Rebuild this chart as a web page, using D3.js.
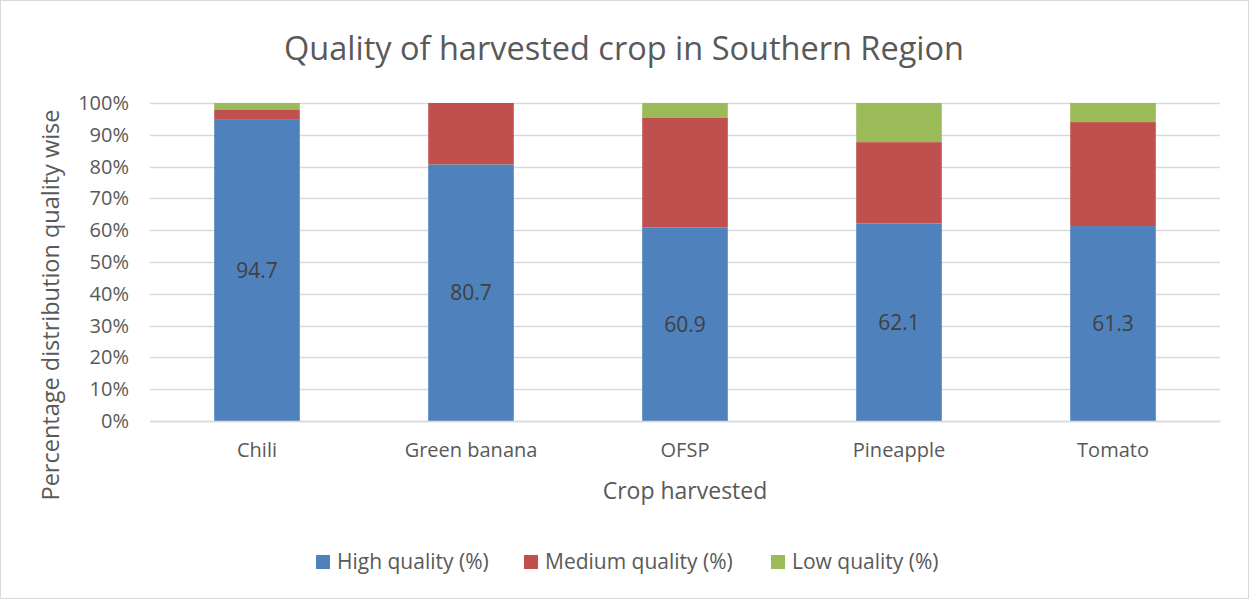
<!DOCTYPE html>
<html>
<head>
<meta charset="utf-8">
<script src="https://cdn.jsdelivr.net/npm/d3@7"></script>
<style>
  html, body { margin: 0; padding: 0; background: #fff; }
  svg { display: block; font-family: "Open Sans", "Noto Sans", sans-serif; }
</style>
</head>
<body>
<svg id="chart" width="1249" height="599"></svg>
<script>
// Crop quality shares (percent) in the Southern Region
const crops = ["Chili", "Green banana", "OFSP", "Pineapple", "Tomato"];
const highQuality = [94.7, 80.7, 60.9, 62.1, 61.3];
const mediumQuality = [3.1, 19.3, 34.4, 25.6, 32.7];
const lowQuality = [2.2, 0.0, 4.7, 12.3, 6.0];
const seriesNames = ["High quality (%)", "Medium quality (%)", "Low quality (%)"];
const seriesColors = ["#4f81bd", "#c0504d", "#9bbb59"];
const yTicks = [0, 0.1, 0.2, 0.3, 0.4, 0.5, 0.6, 0.7, 0.8, 0.9, 1.0];

const W = 1249, H = 599;
const margin = { left: 150, right: 29, top: 103, bottom: 178 };
const textColor = "#595959";
const svg = d3.select("#chart");

// chart frame
svg.append("rect").attr("x", 0.5).attr("y", 0.5).attr("width", W - 1).attr("height", H - 1)
  .attr("fill", "#fff").attr("stroke", "#d9d9d9");

const rows = crops.map((c, i) => ({ crop: c, high: highQuality[i], medium: mediumQuality[i], low: lowQuality[i] }));
const keys = ["high", "medium", "low"];
const stacked = d3.stack().keys(keys)(rows);

const x = d3.scaleBand().domain(crops).range([margin.left, W - margin.right]).paddingInner(0.6).paddingOuter(0.3);
const y = d3.scaleLinear().domain([0, 1]).range([H - margin.bottom, margin.top]);

// gridlines
svg.append("g").selectAll("line").data(yTicks).join("line")
  .attr("x1", margin.left).attr("x2", W - margin.right)
  .attr("y1", d => Math.round(y(d)) + 0.5).attr("y2", d => Math.round(y(d)) + 0.5)
  .attr("stroke", "#d9d9d9").attr("stroke-width", 1.3);

// y axis labels
const yAxis = d3.axisLeft(y).tickValues(yTicks).tickFormat(d3.format(".0%")).tickSize(0).tickPadding(21);
const yg = svg.append("g").attr("transform", `translate(${margin.left},0)`).call(yAxis)
  .attr("font-family", null).attr("font-size", null);
yg.select(".domain").remove();
yg.selectAll("text").attr("font-size", 20).attr("fill", textColor);

// stacked bars
svg.append("g").selectAll("g").data(stacked).join("g")
  .attr("fill", (d, i) => seriesColors[i])
  .selectAll("rect").data(d => d).join("rect")
  .attr("x", d => x(d.data.crop))
  .attr("width", x.bandwidth())
  .attr("y", d => y(d[1] / 100))
  .attr("height", d => Math.max(0, y(d[0] / 100) - y(d[1] / 100)));

// value labels on high-quality segments
svg.append("g").selectAll("text").data(rows).join("text")
  .attr("x", d => x(d.crop) + x.bandwidth() / 2)
  .attr("y", d => y(d.high / 200))
  .attr("dy", "0.35em")
  .attr("text-anchor", "middle")
  .attr("font-size", 21).attr("fill", "#404040")
  .text(d => d.high.toFixed(1));

// x axis labels
const xAxis = d3.axisBottom(x).tickSize(0).tickPadding(22);
const xg = svg.append("g").attr("transform", `translate(0,${H - margin.bottom})`).call(xAxis)
  .attr("font-family", null).attr("font-size", null);
xg.select(".domain").attr("stroke", "#d9d9d9").attr("stroke-width", 1.3);
xg.selectAll("text").attr("font-size", 20).attr("fill", textColor);

// title
svg.append("text").attr("x", 624).attr("y", 60).attr("text-anchor", "middle")
  .attr("font-size", 32.5).attr("fill", textColor).text("Quality of harvested crop in Southern Region");

// axis titles
svg.append("text").attr("x", 685).attr("y", 499).attr("text-anchor", "middle")
  .attr("font-size", 23).attr("fill", textColor).text("Crop harvested");
svg.append("text").attr("transform", "translate(59,305) rotate(-90)").attr("text-anchor", "middle")
  .attr("font-size", 23.5).attr("fill", textColor).text("Percentage distribution quality wise");

// legend
const legendX = [316, 524, 771];
const lg = svg.append("g").selectAll("g").data(seriesNames).join("g")
  .attr("transform", (d, i) => `translate(${legendX[i]},562)`);
lg.append("rect").attr("x", 0).attr("y", -7).attr("width", 14).attr("height", 14)
  .attr("fill", (d, i) => seriesColors[i]);
lg.append("text").attr("x", 21).attr("dy", "0.35em").attr("font-size", 21).attr("fill", textColor).text(d => d);
</script>
</body>
</html>
